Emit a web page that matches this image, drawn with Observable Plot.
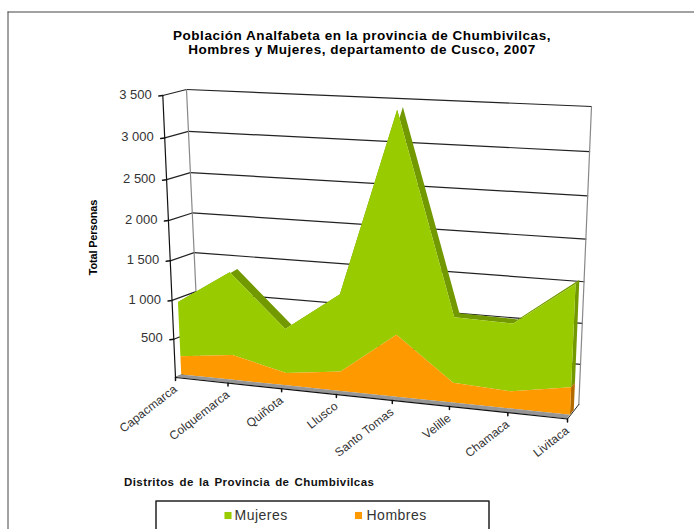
<!DOCTYPE html>
<html><head><meta charset="utf-8">
<style>html,body{margin:0;padding:0;background:#fff}svg{display:block}
.ls-t text{letter-spacing:.53px}.ls-x text{letter-spacing:.42px;word-spacing:1.5px}.ls-l text{letter-spacing:.5px}.ls-c text{letter-spacing:.1px}.ls-y text{letter-spacing:-.2px}</style>
<script src="https://cdn.jsdelivr.net/npm/d3@7"></script>
<script src="https://cdn.jsdelivr.net/npm/@observablehq/plot@0.6"></script>
</head><body><div id="c"></div>
<script>
const distritos = ["Capacmarca","Colquemarca","Quiñota","Llusco","Santo Tomas","Velille","Chamaca","Livitaca"];
const hombres = [240,325,160,250,780,250,215,340];
const mujeres = [705,1055,565,970,2660,810,830,1235];
const ticks = [500,1000,1500,2000,2500,3000,3500];
const tickLabels = ["500","1 000","1 500","2 000","2 500","3 000","3 500"];
const titulo = ["Población Analfabeta en la provincia de Chumbivilcas,","Hombres y Mujeres, departamento de Cusco, 2007"];
const ejeY = "Total Personas";
const ejeX = "Distritos de la Provincia de Chumbivilcas";
const leyenda = ["Mujeres","Hombres"];
const VMAX = 3500, UMAX = 7;
const verde="#99cc00", verdeOsc="#739900", naranja="#ff9900", naranjaOsc="#b36b00", gris="#969696";

// perspective view of the 3-D box: corners of the front and back planes
function homography(q){ // unit square -> quad (00,10,11,01)
  const [[x0,y0],[x1,y1],[x2,y2],[x3,y3]]=q;
  const sx=x0-x1+x2-x3, sy=y0-y1+y2-y3, dx1=x1-x2, dx2=x3-x2, dy1=y1-y2, dy2=y3-y2;
  const den=dx1*dy2-dx2*dy1, g=(sx*dy2-dx2*sy)/den, h=(dx1*sy-sx*dy1)/den;
  const a=x1-x0+g*x1,b=x3-x0+h*x3,c=x0,d=y1-y0+g*y1,e=y3-y0+h*y3,f=y0;
  return (u,v)=>{const w=g*u+h*v+1;return [(a*u+b*v+c)/w,(d*u+e*v+f)/w];};
}
const front = homography([[175,377],[567,418.5],[580,116],[162.3,95]]);
const back  = homography([[199,367],[578.3,404],[591,106],[186,89]]);
function view(i,val,depth){
  const a=front(i/UMAX,val/VMAX), b=back(i/UMAX,val/VMAX);
  return [a[0]+(b[0]-a[0])*depth, a[1]+(b[1]-a[1])*depth];
}
const D1=0.26, D2=0.6;
const rows = distritos.map((name,i)=>({name,i,h:hombres[i],t:hombres[i]+mujeres[i]}));
const px=(i,v,d)=>view(i,v,d)[0], py=(i,v,d)=>view(i,v,d)[1];

const wallLeft = [0,...ticks].flatMap(v=>[{k:v,a:view(0,v,0)},{k:v,a:view(0,v,1)}]);
const wallBack = ticks.flatMap(v=>[{k:v,a:view(0,v,1)},{k:v,a:view(UMAX,v,1)}]);
const verticals = [[0,1],[UMAX,1]].flatMap(([u,d])=>[{k:u,a:view(u,0,d)},{k:u,a:view(u,VMAX,d)}]);
const floorFront = [{a:view(0,0,0)},{a:view(UMAX,0,0)}];
const floorSide = [{a:view(UMAX,0,0)},{a:view(UMAX,0,1)}];
const axisY = [{a:view(0,0,0)},{a:view(0,VMAX,0)}];
const tickX = distritos.flatMap((n,i)=>[{k:i,a:view(i,0,0)},{k:i,a:[view(i,0,0)[0],view(i,0,0)[1]+3]}]);
const tickY = ticks.flatMap(v=>[{k:v,a:view(0,v,0)},{k:v,a:[view(0,v,0)[0]-4,view(0,v,0)[1]+0.5]}]);
const line=(d,o={})=>Plot.line(d,{x:r=>r.a[0],y:r=>r.a[1],z:r=>r.k,...o});

const frame=[{k:"t",x:7.5,y:11.5},{k:"t",x:694,y:11.5},{k:"l",x:7.5,y:11.5},{k:"l",x:7.5,y:529}];
const legendBox=[{k:0,x:155.5,y:529},{k:0,x:155.5,y:500.5},{k:0,x:488.5,y:500.5},{k:0,x:488.5,y:529}];

const font="Liberation Sans, Arial, sans-serif";
const plot = Plot.plot({
  width:694,height:529,margin:0,style:{background:"#fff",fontFamily:font},
  x:{domain:[0,694],range:[0,694],axis:null},
  y:{domain:[0,529],range:[0,529],axis:null},
  marks:[
    Plot.line(frame,{x:"x",y:"y",z:"k",stroke:"#444",strokeWidth:1}),
    // walls
    line(wallLeft,{stroke:"#222",strokeWidth:1.2}),
    line(wallBack,{stroke:"#222",strokeWidth:1.2}),
    line(verticals,{stroke:"#888",strokeWidth:1.2}),
    line(floorSide,{stroke:"#222",strokeWidth:1}),
    // top ribbon and end faces
    Plot.area(rows,{x1:d=>px(d.i,d.t,D1),y1:d=>py(d.i,d.t,D1),x2:d=>px(d.i,d.t,D2),y2:d=>py(d.i,d.t,D2),fill:verdeOsc}),
    Plot.area([{v:rows[7].h},{v:rows[7].t}],{x1:d=>px(7,d.v,D1),y1:d=>py(7,d.v,D1),x2:d=>px(7,d.v,D2),y2:d=>py(7,d.v,D2),fill:verdeOsc}),
    Plot.area([{v:0},{v:rows[7].h}],{x1:d=>px(7,d.v,D1),y1:d=>py(7,d.v,D1),x2:d=>px(7,d.v,D2),y2:d=>py(7,d.v,D2),fill:naranjaOsc}),
    // front faces
    Plot.area(rows,{x1:d=>px(d.i,d.h,D1),y1:d=>py(d.i,d.h,D1),x2:d=>px(d.i,d.t,D1),y2:d=>py(d.i,d.t,D1),fill:verde}),
    Plot.area(rows,{x1:d=>px(d.i,0,D1),y1:d=>py(d.i,0,D1),x2:d=>px(d.i,d.h,D1),y2:d=>py(d.i,d.h,D1),fill:naranja}),
    // floor strip
    Plot.area(rows,{x1:d=>px(d.i,0,0),y1:d=>py(d.i,0,0),x2:d=>px(d.i,0,D1),y2:d=>py(d.i,0,D1),fill:gris}),
    line(axisY,{stroke:"#111",strokeWidth:1.2,z:null}),
    line(floorFront,{stroke:"#111",strokeWidth:1.2,z:null}),
    line(tickX,{stroke:"#111"}),
    line(tickY,{stroke:"#111"}),
    // labels
    Plot.text(ticks,{x:v=>view(0,v,0)[0]-11,y:v=>view(0,v,0)[1]-1,text:(v,i)=>tickLabels[i],textAnchor:"end",fontSize:13,fill:"#333"}),
    Plot.text(rows,{x:d=>view(d.i,0,0)[0],y:d=>view(d.i,0,0)[1]+10,text:"name",rotate:-38,textAnchor:"end",fontSize:12,fill:"#333",className:"ls-c"}),
    Plot.text([ejeY],{x:()=>93,y:()=>237,text:d=>d,rotate:-90,fontSize:11,fontWeight:"bold",fill:"#000",className:"ls-y"}),
    Plot.text(titulo,{x:()=>361.5,y:(d,i)=>35+i*14,text:d=>d,fontSize:13.5,fontWeight:"bold",fill:"#000",className:"ls-t"}),
    Plot.text([ejeX],{x:()=>123.5,y:()=>481.5,text:d=>d,textAnchor:"start",fontSize:11.5,fontWeight:"bold",fill:"#111",className:"ls-x"}),
    // legend
    Plot.line(legendBox,{x:"x",y:"y",z:"k",stroke:"#222"}),
    Plot.dot(leyenda,{x:(d,i)=>[227.5,358][i],y:()=>515,symbol:"square",r:4,fill:(d,i)=>[verde,naranja][i]}),
    Plot.text(leyenda,{x:(d,i)=>[234,366][i],y:()=>515,text:d=>d,textAnchor:"start",fontSize:14,fill:"#333",className:"ls-l"})
  ]
});
document.getElementById("c").append(plot);
</script></body></html>
